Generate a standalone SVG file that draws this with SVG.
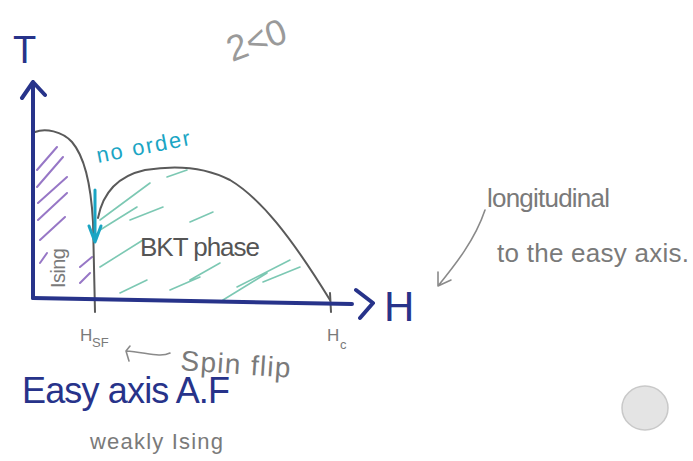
<svg xmlns="http://www.w3.org/2000/svg" width="693" height="461" viewBox="0 0 693 461">
<style>
.ax{fill:none;stroke:#27338a;stroke-width:4;stroke-linecap:round;stroke-linejoin:round}
.crv{fill:none;stroke:#5a5a5a;stroke-width:2;stroke-linecap:round}
.pu{fill:none;stroke:#7d55b8;stroke-width:2;stroke-linecap:round;opacity:.8}
.gr{fill:none;stroke:#45b093;stroke-width:1.6;stroke-linecap:round;opacity:.7}
.ga{fill:none;stroke:#8a8a8a;stroke-width:1.6;stroke-linecap:round;stroke-linejoin:round}
.cy{fill:none;stroke:#1aa5c4;stroke-width:3;stroke-linecap:round;stroke-linejoin:round}
text{font-family:"Liberation Sans",Arial,sans-serif}
.gt{fill:#7a7a7a}
.bt{fill:#27338a}
</style>
<rect width="693" height="461" fill="#ffffff"/>
<g id="hatching">
<path class="pu" d="M37,170L57,147M37,187L63,157M38,203L67,177M38,220L67,193M40,240L65,217M40,263L47,253M80,283L90,273M80,267L92,257"/>
<path class="gr" d="M100,220L150,183M100,230L137,207M100,267L143,240M130,220L163,207M167,177L187,170M120,293L147,280M170,290L200,277M190,222L213,212M190,280L220,263M223,300L267,273M237,287L290,260M263,282L300,267"/>
</g>
<g id="curves">
<path class="crv" d="M35,132C45,128 62,131 72,142C84,156 91,185 93,222L95,312"/>
<path class="crv" d="M98,218C103,192 118,176 145,170C175,165 205,167 230,180C260,198 290,235 330,300"/>
<path class="crv" stroke-width="1" d="M330,293L331,312"/>
</g>
<g id="axes">
<path class="ax" d="M33,298L33,82M22,98L33,82L45,95"/>
<path class="ax" d="M33,298L352,304M356,290L373,303L360,318"/>
<text class="bt" x="13" y="63" font-size="38">T</text>
<text class="bt" x="384" y="321" font-size="42">H</text>
</g>
<g id="no-order">
<path class="cy" d="M95,190L95,240M89,226L95,242L101,226"/>
<text fill="#1aa5c4" font-size="22" textLength="95" transform="translate(98,163) rotate(-11)">no order</text>
</g>
<g id="labels">
<text class="gt" font-size="20" textLength="40" transform="translate(65,288) rotate(-90)">Ising</text>
<text fill="#555" font-size="26" x="140" y="256" textLength="120">BKT phase</text>
<text class="gt" font-size="17" x="80" y="341">H</text>
<text class="gt" font-size="13" x="92" y="347">SF</text>
<text class="gt" font-size="17" x="327" y="341">H</text>
<text class="gt" font-size="13" x="340" y="349">c</text>
<path class="ga" d="M170,353C160,358 145,352 126,351M130,346L126,351L129,361"/>
<text class="gt" font-size="28" textLength="110" transform="translate(180,370) rotate(4)">Spin flip</text>
<text class="bt" font-size="36" x="22" y="403" textLength="208">Easy axis A.F</text>
<text class="gt" font-size="22" x="90" y="449" textLength="133">weakly Ising</text>
<text class="gt" font-size="26" x="487" y="207" textLength="123">longitudinal</text>
<text class="gt" font-size="26" x="497" y="262" textLength="192">to the easy axis.</text>
<path class="ga" d="M485,210C475,240 455,265 438,286M438,272L438,286L451,280"/>
<text fill="#9a9a9a" font-size="36" transform="translate(232,62) rotate(-20)">2&lt;0</text>
</g>
<ellipse cx="645" cy="408" rx="23" ry="22" fill="#e4e4e4" stroke="#c9c9c9" stroke-width="1.5"/>
</svg>
